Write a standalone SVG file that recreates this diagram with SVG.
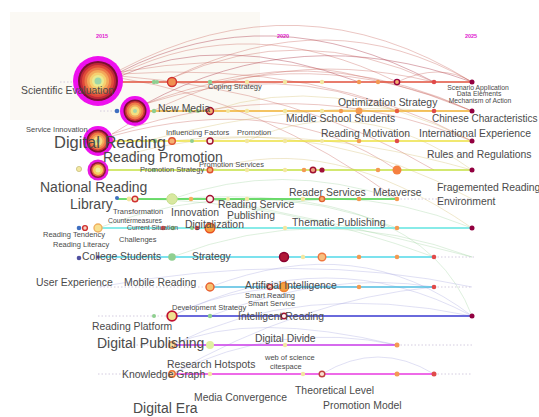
<svg xmlns="http://www.w3.org/2000/svg" width="539" height="417" viewBox="0 0 539 417">
<style>
text{font-family:"Liberation Sans",Arial,Helvetica,sans-serif;fill:#4b4b4b}
.s{font-size:7.5px}
.t{font-size:6.8px}
.m{font-size:10.4px}
.l{font-size:14px}
.xl{font-size:16.5px}
.yr{font-size:5.5px;font-weight:bold;fill:#e020d0;text-anchor:middle}
.arc{fill:none;stroke-width:.8}
.ar{stroke:#c86058;stroke-opacity:.45}
.ar2{stroke:#a83040;stroke-opacity:.5}
.ay{stroke:#d0b860;stroke-opacity:.4}
.ag{stroke:#98d098;stroke-opacity:.4}
.ab{stroke:#a8a8e0;stroke-opacity:.45}
.tl{fill:none;stroke-width:1.6}
.dot{fill:none;stroke:#cfc6dc;stroke-width:.9;stroke-dasharray:1.5 2}
.dy{fill:#f3e7a0}
.dg{fill:#8fcf90}
.do{fill:#f39a52}
.dr{fill:#e04a4a}
.dm{fill:#920040}
.db{fill:#3f6fc0}
.dp{fill:#6040a0}
.rg{fill:#f5b070;stroke:#b81030;stroke-width:1.4}
.ro{fill:#f7d070;stroke:#f08030;stroke-width:1.4}
</style>
<rect width="539" height="417" fill="#ffffff"/>
<rect x="10" y="12" width="250" height="108" fill="#fbf9f4"/>
<g id="years">
<text class="yr" x="102" y="38">2015</text>
<text class="yr" x="283" y="38">2020</text>
<text class="yr" x="471" y="38">2025</text>
</g>
<g id="connectors">
<path class="arc ar" d="M120,70 Q300,-25 472,82"/>
<path class="arc ar2" d="M120,72 Q270,-5 434,82"/>
<path class="arc ar" d="M120,74 Q250,10 397,82"/>
<path class="arc ar2" d="M118,77 Q220,30 359,82"/>
<path class="arc ar" d="M172,78 Q330,0 472,82"/>
<path class="arc ar" d="M172,78 Q300,20 434,82"/>
<path class="arc ar" d="M120,72 Q300,40 472,111"/>
<path class="arc ar" d="M120,74 Q320,60 472,141"/>
<path class="arc ar" d="M120,76 Q300,90 434,170"/>
<path class="arc ar2" d="M145,104 Q300,20 472,82"/>
<path class="arc ar" d="M145,104 Q310,40 472,111"/>
<path class="arc ar" d="M145,104 Q280,60 397,111"/>
<path class="arc ar" d="M210,82 Q340,50 472,111"/>
<path class="arc ar" d="M397,82 Q440,62 472,82"/>
<path class="arc ar" d="M112,134 Q260,40 434,82"/>
<path class="arc ar" d="M112,134 Q300,70 472,141"/>
<path class="arc ar" d="M112,136 Q280,90 397,170"/>
<path class="arc ar" d="M120,78 Q260,100 397,199"/>
<path class="arc ay" d="M210,111 Q330,70 472,141"/>
<path class="arc ay" d="M247,141 Q360,90 472,170"/>
<path class="arc ay" d="M150,140 Q300,100 434,111"/>
<path class="arc ay" d="M172,141 Q330,120 472,199"/>
<path class="arc ay" d="M110,160 Q260,110 472,170"/>
<path class="arc ay" d="M210,170 Q330,130 472,228"/>
<path class="arc ag" d="M172,199 Q280,160 397,199"/>
<path class="arc ag" d="M210,228 Q330,170 472,228"/>
<path class="arc ag" d="M172,257 Q320,200 472,257"/>
<path class="arc ag" d="M98,228 Q250,170 397,228"/>
<path class="arc ag" d="M210,199 Q330,220 472,257"/>
<path class="arc ag" d="M135,199 Q280,200 434,257"/>
<path class="arc ag" d="M172,199 Q420,180 472,316"/>
<path class="arc ab" d="M172,316 Q330,240 472,316"/>
<path class="arc ab" d="M210,287 Q360,230 472,316"/>
<path class="arc ab" d="M172,345 Q300,280 472,316"/>
<path class="arc ab" d="M172,374 Q300,300 434,287"/>
<path class="arc ab" d="M322,374 Q378,340 434,374"/>
<path class="arc ab" d="M172,345 Q250,310 397,345"/>
<path class="arc ab" d="M210,316 Q330,270 434,287"/>
<path class="arc ab" d="M172,316 Q240,280 359,287"/>
<path class="arc ab" d="M172,374 Q280,320 397,345"/>
<path class="arc ab" d="M98,287 Q300,250 472,287"/>
</g>
<g id="timelines">
<path class="dot" d="M60,82H98 M100,111H135 M98,316H172 M98,345H172 M397,345H472 M98,374H172 M434,374H472 M397,199H472 M434,257H475 M100,287H210 M434,287H472"/>
<path class="tl" stroke="#e0503c" d="M98,82H472"/>
<path class="tl" stroke="#f0b030" d="M135,111H472"/>
<path class="tl" stroke="#ece040" d="M98,141H472"/>
<path class="tl" stroke="#c4e040" d="M98,170H472"/>
<path class="tl" stroke="#40d040" d="M117,199H397"/>
<path class="tl" stroke="#60e4e0" d="M98,228H472"/>
<path class="tl" stroke="#50d8e8" d="M98,257H434"/>
<path class="tl" stroke="#50bce0" d="M210,287H434"/>
<path class="tl" stroke="#3838d0" d="M172,316H472"/>
<path class="tl" stroke="#c838e8" d="M172,345H397"/>
<path class="tl" stroke="#e838e0" d="M172,374H434"/>
</g>
<g id="row-dots">
<circle class="db" cx="79" cy="82" r="2.5"/>
<circle class="dg" cx="154" cy="82" r="2.2"/><circle class="dg" cx="157" cy="82" r="2"/>
<circle class="rg" cx="172" cy="82" r="4.5" style="fill:#f09050;stroke:#d03030"/>
<circle class="dg" cx="210" cy="82" r="2.2"/><circle class="dy" cx="247" cy="82" r="2.2"/>
<circle class="dy" cx="285" cy="82" r="2.2"/><circle class="dy" cx="322" cy="82" r="2.2"/>
<circle class="do" cx="359" cy="82" r="2.2"/><circle class="do" cx="378" cy="82" r="2.2"/>
<circle class="rg" cx="397" cy="82" r="2.6" style="stroke:#9a0040"/><circle class="dr" cx="434" cy="82" r="2.3"/>
<circle class="dm" cx="472" cy="82" r="2.5"/>
<circle class="db" cx="117" cy="111" r="2.3"/>
<circle class="dg" cx="154" cy="111" r="2.2"/><circle class="dg" cx="190" cy="111" r="2"/><circle class="dg" cx="198" cy="111" r="2"/>
<circle class="rg" cx="210" cy="111" r="3.5" style="stroke:#a01030"/>
<circle class="dy" cx="228" cy="111" r="2"/><circle class="dy" cx="247" cy="111" r="2.2"/><circle class="dy" cx="285" cy="111" r="2.2"/><circle class="dy" cx="322" cy="111" r="2.2"/>
<circle class="do" cx="341" cy="111" r="2.2"/><circle class="do" cx="359" cy="111" r="3.4"/>
<circle class="dr" cx="397" cy="111" r="2.3" style="fill:#e85a40"/><circle class="dr" cx="434" cy="111" r="2.3"/><circle class="dm" cx="472" cy="111" r="2.5"/>
<circle class="dg" cx="155" cy="141" r="2.2"/><circle class="rg" cx="172" cy="141" r="3.3" style="stroke:#e05030"/>
<circle class="dg" cx="192" cy="141" r="2"/><circle class="rg" cx="210" cy="141" r="3" style="fill:#fff0e0;stroke:#a01030"/>
<circle class="dy" cx="247" cy="141" r="2.2"/><circle class="dy" cx="285" cy="141" r="2.2"/><circle class="dy" cx="322" cy="141" r="2"/>
<circle class="do" cx="359" cy="141" r="2.3"/><circle class="dr" cx="397" cy="141" r="2.3"/><circle class="dm" cx="472" cy="141" r="2.5"/>
<circle class="dy" cx="79" cy="169" r="2.6" style="stroke:#c8c080;stroke-width:.8"/>
<circle class="dg" cx="154" cy="170" r="2"/><circle class="rg" cx="210" cy="170" r="2.8" style="stroke:#e05030"/>
<circle class="dy" cx="247" cy="170" r="2.2"/><circle class="dy" cx="285" cy="170" r="2.2"/>
<circle class="do" cx="304" cy="170" r="2.3"/><circle class="rg" cx="313" cy="170" r="2.8" style="stroke:#a01030;fill:#f0a080"/>
<circle class="dm" cx="322" cy="170" r="2.6" style="fill:#a01038"/>
<circle class="do" cx="378" cy="170" r="2.3"/><circle class="do" cx="397" cy="170" r="4.5" style="fill:#f58040"/><circle class="dm" cx="472" cy="170" r="2.5"/>
<circle class="db" cx="117" cy="198" r="2"/>
<circle class="dy" cx="129" cy="199" r="2.4"/><circle class="rg" cx="135" cy="199" r="2.8" style="stroke:#d03030;fill:#f8e0c0"/>
<circle cx="172" cy="199" r="5.2" fill="#d8e8a0" stroke="#c8e090" stroke-width="1"/>
<circle class="do" cx="191" cy="199" r="2.3" style="fill:#f5b060"/><circle class="rg" cx="210" cy="199" r="3.5" style="fill:#fff0e8;stroke:#a01030"/>
<circle class="dy" cx="228" cy="199" r="2"/><circle class="dy" cx="247" cy="199" r="2.2"/><circle class="dy" cx="303" cy="199" r="2.3"/>
<circle class="rg" cx="322" cy="199" r="2.6" style="stroke:#e06030"/><circle class="do" cx="359" cy="199" r="2.3"/><circle class="do" cx="397" cy="199" r="2.3"/>
<circle class="db" cx="79" cy="228" r="2.3"/><circle class="rg" cx="85" cy="228" r="2.4" style="fill:#f8d0c0;stroke:#d03030"/>
<circle class="ro" cx="98" cy="228" r="4" style="fill:#f8e090;stroke:#f0b060"/>
<circle class="dr" cx="163" cy="228" r="2.3"/><circle class="dg" cx="173" cy="228" r="2.2"/><circle class="dg" cx="192" cy="228" r="2"/>
<circle class="dr" cx="197" cy="228" r="2.3"/><circle class="ro" cx="210" cy="228" r="4.8" style="fill:#f5a040;stroke:#e85020"/>
<circle class="dy" cx="285" cy="228" r="2.2"/><circle class="do" cx="397" cy="228" r="2.3"/><circle class="dm" cx="472" cy="228" r="2.5"/>
<circle class="db" cx="79" cy="258" r="2.3" style="fill:#5050a0"/><circle class="dp" cx="98" cy="257" r="1.8"/>
<circle class="dg" cx="172" cy="257" r="3.8"/>
<circle class="rg" cx="284" cy="257" r="4.5" style="fill:#b01838;stroke:#8a0030"/>
<circle class="dy" cx="303" cy="257" r="2.2"/><circle class="ro" cx="322" cy="257" r="3.8" style="fill:#f7c080;stroke:#f07840"/>
<circle class="do" cx="359" cy="257" r="2.3"/><circle class="do" cx="397" cy="257" r="2.3"/><circle class="dr" cx="434" cy="257" r="2.3"/>
<circle class="ro" cx="210" cy="287" r="4" style="fill:#f7c070;stroke:#e86030"/>
<circle class="rg" cx="270" cy="287" r="2.6" style="fill:#f8d0c0;stroke:#d03030"/>
<circle class="ro" cx="284" cy="287" r="4.5" style="fill:#f5a040;stroke:#f08030"/>
<circle class="do" cx="359" cy="287" r="2.3"/><circle class="dr" cx="434" cy="287" r="2.3"/>
<circle class="dg" cx="154" cy="316" r="2"/>
<circle class="rg" cx="172" cy="316" r="4.8" style="fill:#f0e090;stroke:#c01030;stroke-width:1.8"/>
<circle class="dg" cx="210" cy="316" r="2.2"/><circle class="rg" cx="284" cy="316" r="2.8" style="fill:#fff0f0;stroke:#a01030"/>
<circle class="dm" cx="472" cy="316" r="2.5"/>
<circle class="ro" cx="172" cy="345" r="3.2" style="fill:#f8e0a0;stroke:#e89050"/>
<circle cx="210" cy="345" r="4" fill="#e0f0a0"/>
<circle class="dy" cx="285" cy="345" r="2.2"/><circle class="do" cx="397" cy="345" r="2.5"/>
<circle class="ro" cx="172" cy="374" r="3.2" style="fill:#f8d0a0;stroke:#e87030"/>
<circle class="dy" cx="210" cy="374" r="2.2"/><circle class="dy" cx="303" cy="374" r="2.2"/>
<circle class="rg" cx="322" cy="374" r="2.8" style="fill:#f8e0d0;stroke:#c04040"/>
<circle class="do" cx="397" cy="374" r="2.5"/><circle class="dr" cx="434" cy="374" r="2.5"/>
</g>
<g id="n-scientific-evaluation">
<circle cx="98" cy="81" r="25" fill="#ee10ee"/>
<circle cx="98" cy="81" r="20" fill="#7a1030"/>
<circle cx="98" cy="81" r="18" fill="#c02838"/>
<circle cx="98" cy="81" r="16" fill="#e04a3a"/>
<circle cx="98" cy="81" r="13.5" fill="#ec7a48"/>
<circle cx="98" cy="81" r="11" fill="#f3a85a"/>
<circle cx="98" cy="81" r="8.5" fill="#f6d070"/>
<circle cx="98" cy="81" r="6" fill="#eaea90"/>
<circle cx="98" cy="81" r="3.5" fill="#9ed6a8"/>
<text class="m" x="21" y="94">Scientific Evaluation</text>
</g>
<g id="n-new-media">
<circle cx="135" cy="111" r="15" fill="#ee10ee"/>
<circle cx="135" cy="111" r="11.5" fill="#7a1030"/>
<circle cx="135" cy="111" r="10" fill="#d03838"/>
<circle cx="135" cy="111" r="8.5" fill="#ec7a48"/>
<circle cx="135" cy="111" r="6.5" fill="#f3a85a"/>
<circle cx="135" cy="111" r="4.5" fill="#f4df80"/>
<circle cx="135" cy="111" r="2" fill="#a8d8a8"/>
<text class="m" x="158" y="112">New Media</text>
</g>
<g id="n-digital-reading">
<circle cx="98" cy="141" r="15" fill="#ee10ee"/>
<circle cx="98" cy="141" r="11.5" fill="#7a1030"/>
<circle cx="98" cy="141" r="10" fill="#d03838"/>
<circle cx="98" cy="141" r="8.5" fill="#ec7a48"/>
<circle cx="98" cy="141" r="6.5" fill="#f3a85a"/>
<circle cx="98" cy="141" r="4.5" fill="#f4df80"/>
<circle cx="98" cy="141" r="2" fill="#a8d8a8"/>
<text class="xl" x="54" y="147.5">Digital Reading</text>
</g>
<g id="n-national-reading">
<circle cx="98" cy="170" r="10.5" fill="#e818e0"/>
<circle cx="98" cy="170" r="8" fill="#901838"/>
<circle cx="98" cy="170" r="6.5" fill="#e87040"/>
<circle cx="98" cy="170" r="5" fill="#f5d060"/>
<circle cx="98" cy="170" r="2.5" fill="#f0f0a0"/>
<text class="l" x="40" y="192">National Reading</text>
</g>
<g id="n-coping-strategy"><text class="s" x="208" y="89">Coping Strategy</text></g>
<g id="n-scenario-application"><text class="t" x="478" y="89.5" text-anchor="middle">Scenario Application</text></g>
<g id="n-data-elements"><text class="t" x="479" y="96" text-anchor="middle">Data Elements</text></g>
<g id="n-mechanism-of-action"><text class="t" x="480" y="102.5" text-anchor="middle">Mechanism of Action</text></g>
<g id="n-optimization-strategy"><text class="m" x="338" y="106">Optimization Strategy</text></g>
<g id="n-middle-school-students"><text class="m" x="286" y="122">Middle School Students</text></g>
<g id="n-chinese-characteristics"><text class="m" x="432" y="122" style="font-size:10px">Chinese Characteristics</text></g>
<g id="n-service-innovation"><text class="s" x="26" y="131.5">Service Innovation</text></g>
<g id="n-influencing-factors"><text class="s" x="166" y="135">Influencing Factors</text></g>
<g id="n-promotion"><text class="s" x="237" y="135">Promotion</text></g>
<g id="n-reading-motivation"><text class="m" x="321" y="137">Reading Motivation</text></g>
<g id="n-international-experience"><text class="m" x="419" y="137">International Experience</text></g>
<g id="n-reading-promotion"><text class="l" x="103" y="161.5">Reading Promotion</text></g>
<g id="n-rules-and-regulations"><text class="m" x="427" y="158">Rules and Regulations</text></g>
<g id="n-promotion-services"><text class="s" x="199" y="167">Promotion Services</text></g>
<g id="n-promotion-strategy"><text class="s" x="140" y="172">Promotion Strategy</text></g>
<g id="n-library"><text class="l" x="70" y="209">Library</text></g>
<g id="n-reader-services"><text class="m" x="289" y="196">Reader Services</text></g>
<g id="n-metaverse"><text class="m" x="373" y="196">Metaverse</text></g>
<g id="n-fragemented-reading-environment"><text class="m" x="437" y="191">Fragemented Reading</text><text class="m" x="437" y="205">Environment</text></g>
<g id="n-transformation"><text class="s" x="113" y="214">Transformation</text></g>
<g id="n-innovation"><text class="m" x="171" y="216">Innovation</text></g>
<g id="n-reading-service"><text class="m" x="218" y="208">Reading Service</text></g>
<g id="n-publishing"><text class="m" x="227" y="219">Publishing</text></g>
<g id="n-countermeasures"><text class="t" x="108" y="223">Countermeasures</text></g>
<g id="n-current-situation"><text class="t" x="127" y="230">Current Situation</text></g>
<g id="n-digitalization"><text class="m" x="185" y="228">Digitalization</text></g>
<g id="n-thematic-publishing"><text class="m" x="292" y="226">Thematic Publishing</text></g>
<g id="n-reading-tendency"><text class="s" x="43" y="237">Reading Tendency</text></g>
<g id="n-reading-literacy"><text class="s" x="53" y="247">Reading Literacy</text></g>
<g id="n-challenges"><text class="s" x="119" y="242">Challenges</text></g>
<g id="n-college-students"><text class="m" x="82" y="260">College Students</text></g>
<g id="n-strategy"><text class="m" x="192" y="260">Strategy</text></g>
<g id="n-user-experience"><text class="m" x="36" y="286">User Experience</text></g>
<g id="n-mobile-reading"><text class="m" x="124" y="286">Mobile Reading</text></g>
<g id="n-artificial-intelligence"><text class="m" x="245" y="289">Artificial Intelligence</text></g>
<g id="n-smart-reading"><text class="s" x="245" y="298">Smart Reading</text></g>
<g id="n-smart-service"><text class="s" x="248" y="306">Smart Service</text></g>
<g id="n-development-strategy"><text class="s" x="172" y="310">Development Strategy</text></g>
<g id="n-intelligent-reading"><text class="m" x="238" y="320">Intelligent Reading</text></g>
<g id="n-reading-platform"><text class="m" x="92" y="330">Reading Platform</text></g>
<g id="n-digital-publishing"><text class="l" x="97" y="348">Digital Publishing</text></g>
<g id="n-digital-divide"><text class="m" x="255" y="342">Digital Divide</text></g>
<g id="n-web-of-science"><text class="s" x="265" y="360">web of science</text></g>
<g id="n-citespace"><text class="s" x="270" y="369">citespace</text></g>
<g id="n-research-hotspots"><text class="m" x="167" y="368">Research Hotspots</text></g>
<g id="n-knowledge-graph"><text class="m" x="122" y="378">Knowledge Graph</text></g>
<g id="n-media-convergence"><text class="m" x="194" y="401">Media Convergence</text></g>
<g id="n-theoretical-level"><text class="m" x="295" y="394">Theoretical Level</text></g>
<g id="n-digital-era"><text class="l" x="133" y="413">Digital Era</text></g>
<g id="n-promotion-model"><text class="m" x="323" y="409">Promotion Model</text></g>
</svg>
